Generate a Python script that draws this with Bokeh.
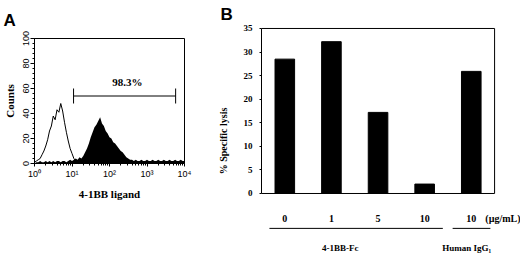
from bokeh.plotting import figure
from bokeh.models import Label, Range1d, FixedTicker
from bokeh.core.properties import value
from bokeh.embed import file_html
from bokeh.resources import INLINE

SERIF = "Liberation Serif"
SANS = "Liberation Sans"

# ---------------- Panel A data (flow cytometry histogram) ----------------
bin_log10 = [0.00, 0.05, 0.10, 0.15, 0.20, 0.25, 0.30, 0.35, 0.40, 0.45,
             0.50, 0.55, 0.60, 0.65, 0.70, 0.75, 0.80, 0.85, 0.90, 0.95,
             1.00, 1.05, 1.10, 1.15, 1.20, 1.25, 1.30, 1.35, 1.40, 1.45,
             1.50, 1.55, 1.60, 1.65, 1.70, 1.75, 1.80, 1.85, 1.90, 1.95,
             2.00, 2.05, 2.10, 2.15, 2.20, 2.25, 2.30, 2.35, 2.40, 2.45,
             2.50, 2.55, 2.60, 2.65, 2.70, 2.75, 2.80, 2.85, 2.90, 2.95,
             3.00, 3.05, 3.10, 3.15, 3.20, 3.25, 3.30, 3.35, 3.40, 3.45,
             3.50, 3.55, 3.60, 3.65, 3.70, 3.75, 3.80, 3.85, 3.90, 3.95,
             4.00]
stained_counts = [0, 1, 1, 2, 1, 1, 2, 1, 2, 1,
                  2, 1, 2, 2, 1, 2, 2, 1, 2, 3,
                  2, 3, 4, 3, 5, 4, 6, 9, 12, 16,
                  21, 25, 29, 31, 34, 37, 32, 30, 26, 24,
                  21, 20, 17, 16, 14, 12, 10, 9, 7, 5,
                  4, 3, 3, 2, 3, 2, 2, 3, 2, 2,
                  3, 2, 2, 3, 2, 2, 3, 2, 2, 3,
                  2, 2, 3, 2, 2, 3, 2, 2, 3, 2,
                  2]
control_counts = [1, 2, 3, 4, 7, 10, 14, 19, 26, 30,
                  38, 35, 43, 41, 48, 42, 33, 25, 18, 12,
                  8, 4, 2, 1, 1]
gate_low = 11
gate_high = 5800
gate_level = 54
gate_label = "98.3%"
decades = [0, 1, 2, 3, 4]
superscripts = ["\u2070", "\u00b9", "\u00b2", "\u00b3", "\u2074"]
count_ticks = [0, 20, 40, 60, 80, 100]

# ---------------- Panel B data (cytotoxicity bars) ----------------
dose_labels = ["0", "1", "5", "10", "10"]
group_names = ["4-1BB-Fc", "Human IgG\u2081"]
group_sizes = [4, 1]
lysis = [28.5, 32.2, 17.2, 2.0, 25.9]
lysis_ticks = [0, 5, 10, 15, 20, 25, 30, 35]
unit_label = "(\u00b5g/mL)"

# ======================= Panel A =======================
pa = figure(width=214, height=255, x_axis_type="log",
            x_range=Range1d(1, 1e4), y_range=Range1d(0, 100),
            output_backend="svg", toolbar_location=None,
            min_border_left=33, min_border_right=30,
            min_border_top=38, min_border_bottom=92)
pa.grid.visible = False
pa.outline_line_color = "black"
pa.outline_line_alpha = 1.0
pa.background_fill_color = "white"
pa.border_fill_color = "white"

pa.title.text = "A"
pa.title.align = "left"
pa.title.offset = -31
pa.title.standoff = 17
pa.title.text_font = SANS
pa.title.text_font_style = "bold"
pa.title.text_font_size = "17px"
pa.title.text_color = "black"

xs = [10 ** v for v in bin_log10]
pa.varea(x=xs, y1=[0] * len(xs), y2=stained_counts, fill_color="black")
pa.line(x=xs[:len(control_counts)], y=control_counts, line_color="black", line_width=1)

pa.segment(x0=[gate_low], y0=[gate_level], x1=[gate_high], y1=[gate_level],
           line_color="black", line_width=1)
pa.segment(x0=[gate_low, gate_high], y0=[gate_level - 6] * 2,
           x1=[gate_low, gate_high], y1=[gate_level + 6] * 2,
           line_color="black", line_width=1)
pa.add_layout(Label(x=300, y=gate_level + 11, text=gate_label, text_align="center",
                    text_baseline="middle", text_font=SERIF, text_font_style="bold",
                    text_font_size="11px", text_color="black"))

pa.yaxis.ticker = FixedTicker(ticks=count_ticks, minor_ticks=list(range(0, 101, 4)))
pa.yaxis.major_label_orientation = "vertical"
pa.yaxis.major_tick_out = 4
pa.yaxis.major_tick_in = 0
pa.yaxis.minor_tick_out = 2
pa.yaxis.minor_tick_in = 0
pa.yaxis.major_label_standoff = 2
pa.yaxis.major_label_text_font = SANS
pa.yaxis.major_label_text_font_size = "9px"
pa.yaxis.major_label_text_color = "black"
pa.yaxis.axis_line_color = "black"
pa.yaxis.axis_label = "Counts"
pa.yaxis.axis_label_text_font = SERIF
pa.yaxis.axis_label_text_font_style = "bold"
pa.yaxis.axis_label_text_font_size = "11px"
pa.yaxis.axis_label_text_color = "black"
pa.yaxis.axis_label_standoff = 4

pa.xaxis.ticker = FixedTicker(ticks=[10 ** d for d in decades],
                              minor_ticks=[m * 10 ** d for d in decades[:-1] for m in range(2, 10)])
pa.xaxis.major_label_overrides = {10 ** d: "10" + superscripts[d] for d in decades}
pa.xaxis.major_tick_out = 3
pa.xaxis.major_tick_in = 0
pa.xaxis.minor_tick_out = 2
pa.xaxis.minor_tick_in = 0
pa.xaxis.major_label_standoff = 2
pa.xaxis.major_label_text_font = SANS
pa.xaxis.major_label_text_font_size = "9px"
pa.xaxis.major_label_text_color = "black"
pa.xaxis.axis_line_color = "black"
pa.xaxis.axis_label = "4-1BB ligand"
pa.xaxis.axis_label_text_font = SERIF
pa.xaxis.axis_label_text_font_style = "bold"
pa.xaxis.axis_label_text_font_size = "11px"
pa.xaxis.axis_label_text_color = "black"
pa.xaxis.axis_label_standoff = 6

# ======================= Panel B =======================
# frame reaches the bottom/right edge so the dose row, group lines and names can sit under the box
bar_x = [i + 0.5 for i in range(len(lysis))]
n_bars = len(lysis)
pb = figure(width=306, height=255, x_range=Range1d(0, 5.556), y_range=Range1d(-13.15, 35.42),
            x_axis_location=None, output_backend="svg", toolbar_location=None,
            min_border_left=46, min_border_right=0, min_border_top=26, min_border_bottom=0)
pb.grid.visible = False
pb.outline_line_color = None
pb.background_fill_color = "white"
pb.border_fill_color = "white"

pb.title.text = "B"
pb.title.align = "left"
pb.title.offset = -41
pb.title.standoff = 5
pb.title.text_font = SANS
pb.title.text_font_style = "bold"
pb.title.text_font_size = "17px"
pb.title.text_color = "black"

# plot box (y = 0 .. 35, across all bars)
pb.quad(left=[0], right=[n_bars], bottom=[lysis_ticks[0]], top=[lysis_ticks[-1]],
        fill_color=None, line_color="black", line_width=1)
pb.vbar(x=bar_x, top=lysis, width=0.42, fill_color="black", line_color="black")

pb.yaxis.ticker = FixedTicker(ticks=lysis_ticks)
pb.yaxis.bounds = (lysis_ticks[0], lysis_ticks[-1])
pb.yaxis.major_tick_out = 2
pb.yaxis.major_tick_in = 0
pb.yaxis.minor_tick_line_color = None
pb.yaxis.major_label_standoff = 7
pb.yaxis.major_label_text_font = SERIF
pb.yaxis.major_label_text_font_style = "bold"
pb.yaxis.major_label_text_font_size = "9px"
pb.yaxis.major_label_text_color = "black"
pb.yaxis.axis_line_color = "black"
pb.yaxis.axis_label = "% Specific lysis"
pb.yaxis.axis_label_text_font = SERIF
pb.yaxis.axis_label_text_font_style = "bold"
pb.yaxis.axis_label_text_font_size = "10px"
pb.yaxis.axis_label_text_color = "black"
pb.yaxis.axis_label_standoff = 12

row_dose, row_line, row_group = -5.3, -7.4, -11.6
pb.text(x=bar_x, y=[row_dose] * n_bars, text=dose_labels, text_align="center",
        text_baseline="middle", text_font=value(SERIF), text_font_style="bold",
        text_font_size="10px", text_color="black")
pb.text(x=[5.18], y=[row_dose], text=[unit_label], text_align="center",
        text_baseline="middle", text_font=value(SERIF), text_font_style="bold",
        text_font_size="10px", text_color="black")
pb.segment(x0=[0.17, 4.10], y0=[row_line] * 2, x1=[3.89, 4.91], y1=[row_line] * 2,
           line_color="black", line_width=1)
pb.text(x=[1.69, 4.40], y=[row_group] * 2, text=group_names, text_align="center",
        text_baseline="middle", text_font=value(SERIF), text_font_style="bold",
        text_font_size="9px", text_color="black")

side_by_side = """{% block postamble %}<style>body { display: flex; flex-direction: row; align-items: flex-start; }</style>{% endblock %}"""
open("out.html", "w").write(file_html([pa, pb], INLINE, template=side_by_side))
